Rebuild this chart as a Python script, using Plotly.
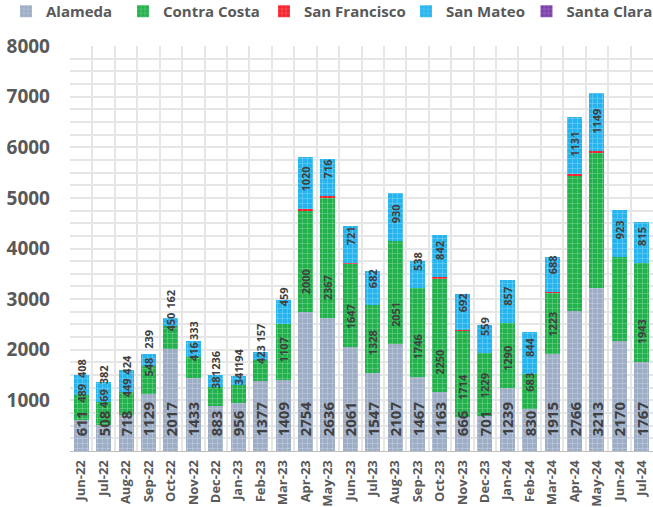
import plotly.graph_objects as go

months = ["Jun-22", "Jul-22", "Aug-22", "Sep-22", "Oct-22", "Nov-22", "Dec-22",
          "Jan-23", "Feb-23", "Mar-23", "Apr-23", "May-23", "Jun-23", "Jul-23",
          "Aug-23", "Sep-23", "Oct-23", "Nov-23", "Dec-23", "Jan-24", "Feb-24",
          "Mar-24", "Apr-24", "May-24", "Jun-24", "Jul-24"]

alameda = [611, 508, 718, 1129, 2017, 1433, 883, 956, 1377, 1409, 2754, 2636, 2061,
           1547, 2107, 1467, 1163, 666, 701, 1239, 830, 1915, 2766, 3213, 2170, 1767]
contra_costa = [489, 469, 449, 548, 450, 416, 381, 341, 423, 1107, 2000, 2367, 1647,
                1328, 2051, 1746, 2250, 1714, 1229, 1290, 683, 1223, 2680, 2680, 1670, 1943]
san_francisco = [0, 0, 0, 0, 0, 0, 0, 0, 0, 0, 30, 40, 15,
                 0, 0, 0, 20, 20, 0, 0, 0, 10, 25, 30, 0, 0]
san_mateo = [408, 382, 424, 239, 162, 333, 236, 194, 157, 459, 1020, 716, 721,
             682, 930, 538, 842, 692, 559, 857, 844, 688, 1131, 1149, 923, 815]
santa_clara = [0] * len(months)

y_ticks = [1000, 2000, 3000, 4000, 5000, 6000, 7000, 8000]

# months whose Contra Costa label is not shown in the original
cc_hidden_labels = ["Apr-24", "May-24", "Jun-24"]

NB = "\u00a0"
LABEL_COLOR = "#404040"
GRAY = "#595959"
FONT = "Open Sans"


def labels(vals, pad, hidden=()):
    return [("" if m in hidden else NB * pad + str(v)) for m, v in zip(months, vals)]


def pattern():
    return dict(shape="+", fgcolor="white", fgopacity=0.45, size=5, solidity=0.18,
                fillmode="overlay")


LEG_SHIFT = -7 / 583
series = [
    # name, values, colour, labels, label size, legend id, legend x (paper)
    ("Alameda", alameda, "#9DADC6", labels(alameda, 3), 15, "legend", -0.0978 + LEG_SHIFT),
    ("Contra Costa", contra_costa, "#22B24C", labels(contra_costa, 5, cc_hidden_labels), 11, "legend2", 0.1029 + LEG_SHIFT),
    ("San Francisco", san_francisco, "#F5222D", None, 11, "legend3", 0.3448 + LEG_SHIFT),
    ("San Mateo", san_mateo, "#25B4EE", labels(san_mateo, 5), 11, "legend4", 0.5883 + LEG_SHIFT),
    ("Santa Clara", santa_clara, "#7A3DAA", None, 11, "legend5", 0.7950 + LEG_SHIFT),
]

fig = go.Figure()

# coloured stacked bars
for name, vals, color, txt, fsize, leg, lx in series:
    fig.add_trace(go.Bar(
        name=name, x=months, y=vals,
        marker=dict(color=color, line=dict(width=0), pattern=pattern()),
        legend=leg,
        hoverinfo="x+y+name",
        xaxis="x", yaxis="y",
    ))

# same stack again, transparent, on an overlaid axis so that every label sits on top
for name, vals, color, txt, fsize, leg, lx in series:
    if name == "Santa Clara":
        continue
    fig.add_trace(go.Bar(
        name=name, x=months, y=vals,
        marker=dict(color="rgba(0,0,0,0)", line=dict(width=0)),
        text=txt,
        textposition="inside" if txt else "none",
        insidetextanchor="start",
        textangle=-90,
        constraintext="none",
        textfont=dict(family=FONT, size=fsize, color=LABEL_COLOR, weight="bold"),
        cliponaxis=False,
        showlegend=False,
        hoverinfo="skip",
        xaxis="x", yaxis="y2",
    ))

legend_common = dict(
    orientation="h", xanchor="left", y=1 + 51 / 405, yanchor="top",
    font=dict(family=FONT, size=15, color=GRAY, weight="bold"),
    itemwidth=30, bgcolor="rgba(0,0,0,0)", borderwidth=0,
)
legends = {}
for name, vals, color, txt, fsize, leg, lx in series:
    legends[leg] = dict(legend_common, x=lx)

fig.update_layout(
    width=653, height=507,
    barmode="stack",
    bargap=0.33,
    paper_bgcolor="white",
    plot_bgcolor="white",
    margin=dict(l=70, r=0, t=46, b=56, autoexpand=False),
    font=dict(family=FONT, color=GRAY),
    xaxis=dict(
        type="category",
        tickson="boundaries",
        showgrid=True, gridcolor="#E6E6E6", gridwidth=2,
        showline=True, linecolor="#BFBFBF", linewidth=1,
        ticks="", tickangle=-90,
        ticklabelstandoff=3,
        tickfont=dict(family=FONT, size=13, color=GRAY, weight="bold"),
        automargin=False,
        fixedrange=True,
    ),
    yaxis=dict(
        range=[0, 8000],
        tickmode="array", tickvals=y_ticks,
        showgrid=True, gridcolor="#E6E6E6", gridwidth=2,
        minor=dict(dtick=250, tick0=0, showgrid=True, gridcolor="#E6E6E6", gridwidth=2),
        zeroline=False, showline=False,
        ticks="", ticklabelstandoff=19,
        tickfont=dict(family=FONT, size=19, color=GRAY, weight="bold"),
        automargin=False,
        fixedrange=True,
    ),
    yaxis2=dict(
        overlaying="y", range=[0, 8000],
        showgrid=False, zeroline=False, showline=False,
        showticklabels=False, ticks="",
        automargin=False, fixedrange=True,
    ),
    **legends,
)

fig.write_html("out.html", config={"displayModeBar": False},
               post_script="document.body.style.margin='0';")
